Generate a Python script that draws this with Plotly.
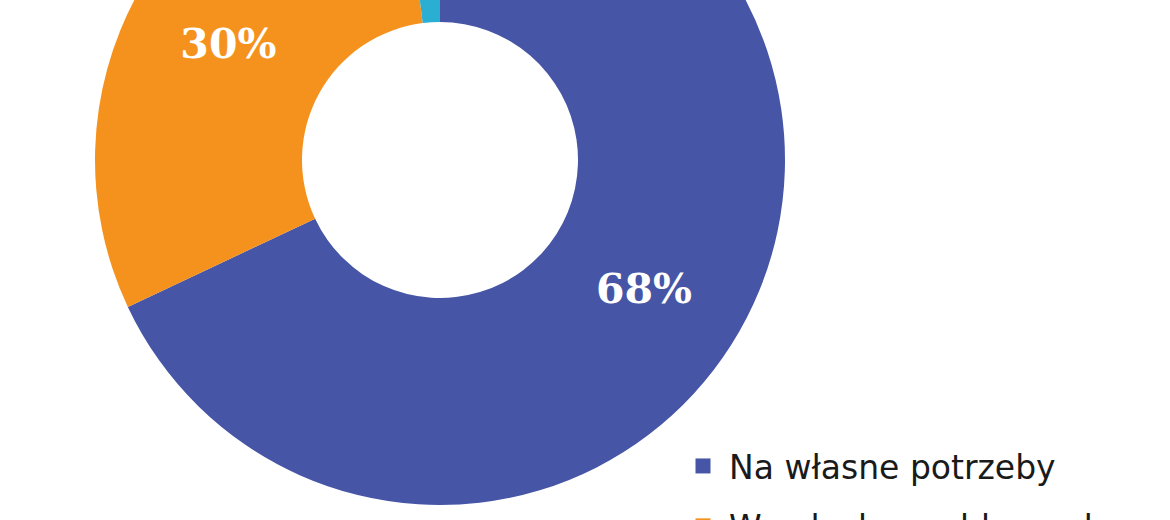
import plotly.graph_objects as go

# ---- data ----
labels = ["Na własne potrzeby", "W celach zarobkowych", "Inne"]
values = [68, 30, 2]
colors = ["#4655A5", "#F5921E", "#2AAFD3"]
label_templates = ["%{percent:.0%}", "%{percent:.0%}", ""]

# ---- geometry (window 1170x520; chart is cropped at the top) ----
W = 1170
VIEW_H = 520
OFFSET = 200          # part of the figure hidden above the window
H = VIEW_H + OFFSET

cx, cy, R = 440, 160 + OFFSET, 345

fig = go.Figure()

fig.add_trace(go.Pie(
    labels=labels,
    values=values,
    sort=False,
    direction="clockwise",
    rotation=0,
    hole=0.4,
    marker=dict(colors=colors, line=dict(width=0)),
    texttemplate=label_templates,
    textposition="inside",
    insidetextorientation="horizontal",
    textfont=dict(family="DejaVu Serif", size=41, color="white", weight="bold"),
    showlegend=False,
    hoverinfo="label+percent",
    domain=dict(x=[(cx - R) / W, (cx + R) / W],
                y=[(H - cy - R) / H, (H - cy + R) / H]),
))

# legend entries (one per category)
for i, (lab, col) in enumerate(zip(labels, colors)):
    fig.add_trace(go.Scatter(
        x=[None], y=[None], mode="markers", name=lab,
        marker=dict(symbol="square", size=15, color=col),
        legendgroup=f"g{i}", showlegend=True,
    ))

fig.update_layout(
    width=W, height=H,
    margin=dict(l=0, r=0, t=0, b=0, autoexpand=False),
    paper_bgcolor="white",
    plot_bgcolor="white",
    xaxis=dict(visible=False),
    yaxis=dict(visible=False),
    showlegend=True,
    legend=dict(
        x=677 / W, xanchor="left",
        y=1 - 638 / H, yanchor="top",
        font=dict(family="DejaVu Sans", size=33, color="#1a1a1a"),
        itemwidth=42,
        tracegroupgap=14,
        bgcolor="rgba(0,0,0,0)",
        itemclick=False,
    ),
)

post = (
    "document.body.style.margin='0';"
    "document.body.style.overflow='hidden';"
    "var d=document.getElementById('{plot_id}');"
    "d.style.marginTop='-%dpx';" % OFFSET
)

fig.write_html("out.html", post_script=post)
